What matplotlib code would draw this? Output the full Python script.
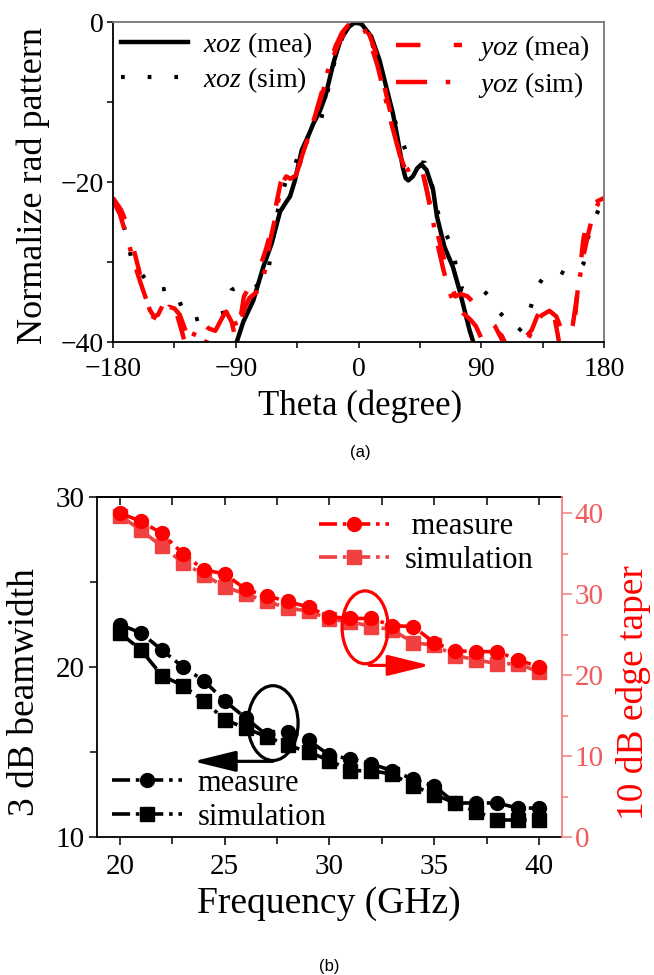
import numpy as np
import matplotlib

matplotlib.use("Agg")
import matplotlib.pyplot as plt
from matplotlib.patches import Ellipse
from matplotlib.lines import Line2D

plt.rcParams["font.family"] = ["Liberation Serif", "DejaVu Serif"]
plt.rcParams["mathtext.fontset"] = "custom"
plt.rcParams["mathtext.rm"] = "Liberation Serif"
plt.rcParams["mathtext.it"] = "Liberation Serif:italic"

# ---- (a) radiation pattern ------------------------------------------------
xoz_mea_theta = [-89.3, -84.5, -77.1, -69.8, -63.7, -57.5, -53, -50.2, -46.6, -41.6, -37, -33.1,
                 -28.5, -24.3, -18.2, -13.2, -7.1, -2.9, 2, 9.3, 15.4, 20.3, 25.2, 28.9, 32.5,
                 34.5, 36.5, 39.9, 43, 46, 49.9, 54.7, 57.5, 63, 69.2, 74, 77.7, 81.4, 84.5]
xoz_mea_db = [-40, -37.5, -34.8, -30.6, -27.7, -23.7, -22.5, -21.8, -19.8, -16, -14.3, -12.7,
              -11.2, -9.3, -5, -2.25, -0.6, -0.1, -0.2, -1.8, -4.75, -8.1, -11.4, -14.75, -18.2,
              -19.5, -19.8, -19.3, -18.3, -17.8, -18.5, -21, -24.3, -28.1, -30.6, -33.5, -36,
              -38.5, -40.2]

xoz_sim_theta = [-180, -175, -171, -166, -160, -155, -149, -143, -137, -132, -127, -120, -113,
                 -105, -98, -93, -88, -82, -77, -72, -66, -63, -58, -53, -48, -43, -36, -28.6,
                 -23, -17.6, -12, -6, 0, 6, 11.7, 17, 22, 27, 32.5, 37, 42, 48.7, 54, 59.4, 64,
                 68.6, 72, 76, 82, 90, 97, 103.4, 110, 116.9, 121, 124.2, 130.3, 136, 142.6, 148,
                 153.6, 160, 165, 168.2, 172, 176, 180]
xoz_sim_db = [-22.5, -24, -26.1, -30, -31.2, -32.5, -33.5, -33.4, -33.2, -34.5, -37, -37.2,
              -36.9, -36.6, -36.3, -33.5, -33, -33.3, -33.4, -32.5, -31, -27.4, -22.5, -19.75,
              -18.5, -16.2, -14, -13, -9, -5, -2, -0.4, 0, -0.8, -3.5, -6.5, -9.5, -12.5, -15.2,
              -17, -17.5, -17.6, -20.5, -24.7, -26.5, -28, -31, -33.4, -33.5, -33.3, -34.5,
              -36.3, -37.5, -38.7, -38, -36.9, -33.3, -31.8, -31, -31.2, -31.7, -31.2, -30.2,
              -27, -25, -23.5, -22.5]

yoz_mea_theta = [-180, -174, -169, -165, -161, -157, -153, -150, -147, -143, -140, -137, -133,
                 -129, -126, -120, -113, -108, -104, -100, -97, -93, -90, -87, -84, -78, -72,
                 -68, -64, -60, -57, -55, -52, -49, -45, -41, -37, -32, -27, -22, -17, -12, -7,
                 -3, 0, 4, 8, 12, 16, 20, 23, 26, 30, 34, 38, 42, 46, 48, 51, 56, 61, 66, 71, 75,
                 80, 85, 90, 94, 100, 106, 112, 118, 122, 127, 131, 135.6, 140.5, 143, 146, 149,
                 153, 157, 161, 165, 169, 174, 180]
yoz_mea_db = [-22, -23.5, -25.6, -28.3, -31, -33.9, -36, -36.8, -36.6, -35.2, -34.3, -35, -36.6,
              -39, -41, -43, -40.5, -38.5, -38.3, -36.8, -36.2, -37.5, -39.7, -37.5, -34.3,
              -32.5, -30.5, -28.5, -26, -22.5, -20, -19.1, -18.9, -19.5, -18.8, -16.5, -14.5,
              -12, -9.2, -6.5, -3.6, -1.8, -0.6, -0.1, 0, -0.5, -1.6, -3.5, -6, -8.8, -11,
              -13.5, -16.5, -18.3, -18.7, -18, -18.2, -19.2, -21.8, -25.2, -28.5, -31.8, -34.3,
              -34.0, -34.3, -35.2, -36.2, -37, -38, -40, -41.5, -40.2, -39.5, -38.5, -36.8,
              -35.6, -35.2, -36.3, -39, -42, -44, -40, -33, -27, -24, -22.5, -22]

yoz_sim_theta = [-180, -175, -170, -165, -160, -155, -151, -147, -143, -139, -135, -131, -127,
                 -123, -118, -114, -110, -105, -100, -96, -92, -88, -84, -80, -75, -71, -68, -65,
                 -62, -59, -56, -53, -50, -46, -42, -37, -32, -27, -22, -17, -12, -7, -3, 0, 4,
                 9, 14, 19, 24, 28, 32, 36, 40, 44, 47, 50, 54, 58, 62, 66, 70, 74, 78, 82, 86,
                 90, 95, 100, 105, 110, 116, 122, 128, 134, 140, 145, 149, 153, 157, 160, 164,
                 168, 172, 176, 180]
yoz_sim_db = [-22.3, -24, -26.8, -29.8, -32.5, -35, -36.8, -37.2, -36.5, -35.6, -35.8, -36.6,
              -38.5, -40, -38, -37.6, -38.3, -38.6, -37, -35.8, -37, -38.5, -36, -34.5, -33.8,
              -33, -30.5, -27.5, -25.2, -22.5, -20.2, -19.3, -19.6, -19.2, -17.2, -14.5, -11.8,
              -8.8, -5.8, -3.1, -1.3, -0.3, 0, -0.1, -0.8, -2.8, -5.5, -9, -12.6, -15.2, -17.3,
              -18.5, -18.2, -18, -18.8, -21, -24.4, -27.8, -30.8, -33.4, -35.2, -36, -36.6,
              -37.2, -38, -39.5, -41, -38.4, -39.2, -41, -41.5, -40.5, -38.3, -36.7, -36.1,
              -36.8, -38.5, -40.5, -38, -34.5, -30, -26.8, -24, -22.6, -22]

# ---- (b) beamwidth / edge taper -------------------------------------------
freq = [20, 21, 22, 23, 24, 25, 26, 27, 28, 29, 30, 31, 32, 33, 34, 35, 36, 37, 38, 39, 40]
bw_measure = [22.5, 22.0, 21.0, 20.0, 19.2, 18.0, 17.0, 16.0, 16.2, 15.7, 14.8, 14.6, 14.3,
              13.9, 13.4, 13.0, 12.0, 12.0, 12.0, 11.7, 11.7]
bw_simulation = [22.0, 21.0, 19.5, 18.9, 18.0, 16.9, 16.4, 15.9, 15.4, 15.0, 14.5, 13.9, 13.9,
                 13.7, 13.0, 12.5, 12.0, 11.5, 11.0, 11.0, 11.0]
taper_measure = [40.0, 39.0, 37.5, 35.0, 33.0, 32.5, 30.6, 29.8, 29.1, 28.4, 27.2, 27.0, 27.0,
                 26.1, 26.0, 24.0, 23.0, 22.9, 22.9, 21.9, 21.0]
taper_simulation = [39.7, 37.9, 35.9, 33.9, 32.4, 30.9, 30.0, 29.1, 28.3, 27.9, 26.9, 26.6,
                    26.0, 25.6, 24.0, 23.7, 22.4, 21.9, 21.4, 21.4, 20.4]

RED = "#ff0000"
RED_SIM = "#f04040"
RIGHT_SPINE = "#f28080"
RIGHT_TICK = "#f05a5a"

fig = plt.figure(figsize=(6.54, 9.75), dpi=100)

# ---------------------------------------------------------------- panel (a)
ax = fig.add_axes([113 / 654, 1 - 342 / 975, 491 / 654, 320 / 975])
ax.plot(xoz_mea_theta, xoz_mea_db, color="k", lw=3.2, solid_capstyle="butt")
ax.plot(xoz_sim_theta, xoz_sim_db, color="k", lw=3.0, dashes=(0.9, 5.5))
ax.plot(yoz_mea_theta, yoz_mea_db, color=RED, lw=3.2, dashes=(5.5, 7.5))
ax.plot(yoz_sim_theta, yoz_sim_db, color=RED, lw=3.2, dashes=(7, 4.2, 1, 4.2))
ax.set_xlim(-180, 180)
ax.set_ylim(-40, 0)
ax.set_xticks([-180, -90, 0, 90, 180])
ax.set_xticks([-135, -45, 45, 135], minor=True)
ax.set_yticks([-40, -20, 0])
ax.set_yticks([-30, -10], minor=True)
ax.tick_params(which="both", direction="out", length=4.5, width=1.1, labelsize=20, pad=2)
ax.tick_params(axis="x", which="both", pad=6)
for s in ("top", "right"):
    ax.spines[s].set_color("#777777")
    ax.spines[s].set_linewidth(1.3)
for s in ("left", "bottom"):
    ax.spines[s].set_linewidth(1.3)
ax.set_xlabel("Theta (degree)", fontsize=25, va="center")
ax.xaxis.set_label_coords(0.503, -0.2)
ax.set_ylabel("Normalize rad pattern", fontsize=26, va="center")
ax.yaxis.set_label_coords(-0.163, 0.49)

h1 = [Line2D([], [], color="k", lw=3.2),
      Line2D([], [], color="k", lw=3.0, dashes=(0.9, 5.5))]
h2 = [Line2D([], [], color=RED, lw=3.2, dashes=(5.5, 7.5)),
      Line2D([], [], color=RED, lw=3.2, dashes=(7, 4.2, 1, 4.2))]
leg1 = ax.legend(h1, [r"$\mathit{xoz}$ (mea)", r"$\mathit{xoz}$ (sim)"], loc="upper left",
                 bbox_to_anchor=(0.016, 0.975), frameon=False, fontsize=20, borderpad=0,
                 borderaxespad=0, handlelength=2.4, handletextpad=0.55, labelspacing=0.2)
ax.add_artist(leg1)
ax.legend(h2, [r"$\mathit{yoz}$ (mea)", r"$\mathit{yoz}$ (sim)"], loc="upper left",
          bbox_to_anchor=(0.576, 0.965), frameon=False, fontsize=20, borderpad=0,
          borderaxespad=0, handlelength=2.4, handletextpad=0.55, labelspacing=0.25)

fig.text(360 / 654, 1 - 452 / 975, "(a)", family="Liberation Sans", fontsize=12,
         ha="center", va="center")

# ---------------------------------------------------------------- panel (b)
axb = fig.add_axes([97 / 654, 1 - 837 / 975, 465 / 654, 340 / 975])
ax2 = axb.twinx()

mea_style = dict(lw=2.6, dashes=(5, 1.6, 1, 1.6), marker="o", ms=10)
sim_style = dict(lw=2.6, dashes=(5, 1.6, 1, 1.6), marker="s", ms=9.5)

axb.plot(freq, bw_measure, color="k", **mea_style)
axb.plot(freq, bw_simulation, color="k", **sim_style)
ax2.plot(freq, taper_simulation, color=RED_SIM, **sim_style)
ax2.plot(freq, taper_measure, color=RED, **mea_style)

axb.set_xlim(18.9, 41.1)
axb.set_ylim(10, 30)
ax2.set_ylim(0, 42)
axb.set_xticks([20, 25, 30, 35, 40])
axb.set_xticks([22.5, 27.5, 32.5, 37.5], minor=True)
axb.set_yticks([10, 20, 30])
axb.set_yticks([15, 25], minor=True)
ax2.set_yticks([0, 10, 20, 30, 40])
ax2.set_yticks([5, 15, 25, 35], minor=True)

axb.tick_params(which="major", direction="out", length=6, width=1.1, labelsize=21, pad=3)
axb.tick_params(which="minor", direction="out", length=5, width=1.1)
axb.tick_params(axis="x", which="major", pad=6)
ax2.tick_params(axis="y", which="major", direction="out", length=7, width=1.1,
                labelsize=21, color=RIGHT_SPINE, labelcolor=RIGHT_TICK, pad=2)
ax2.tick_params(axis="y", which="minor", direction="out", length=4, width=1.1,
                color=RIGHT_SPINE)
for s in ("left", "bottom", "top"):
    axb.spines[s].set_linewidth(1.3)
axb.spines["right"].set_visible(False)
for s in ("left", "bottom", "top"):
    ax2.spines[s].set_visible(False)
ax2.spines["right"].set_color(RIGHT_SPINE)
ax2.spines["right"].set_linewidth(1.3)

top = axb.secondary_xaxis("top")
top.set_xticks([20, 22.5, 25, 27.5, 30, 32.5, 35, 37.5, 40])
top.tick_params(direction="in", length=6, width=1.1, labeltop=False)
top.spines["top"].set_linewidth(1.3)

axb.set_xlabel("Frequency (GHz)", fontsize=27, va="center")
axb.xaxis.set_label_coords(0.499, -0.195)
axb.set_ylabel("3 dB beamwidth", fontsize=27, va="center")
axb.yaxis.set_label_coords(-0.155, 0.426)
ax2.set_ylabel("10 dB edge taper", fontsize=27, color=RED, va="center", rotation=90)
ax2.yaxis.set_label_coords(1.153, 0.426)

# annotation ellipses and arrows
axb.add_patch(Ellipse((27.3, 16.7), 2.4, 4.4, fill=False, ec="k", lw=2.3, zorder=5))
axb.annotate("", xy=(23.5, 14.45), xytext=(27.3, 14.45),
             arrowprops=dict(arrowstyle="-|>,head_length=1.3,head_width=0.32",
                             color="k", lw=2.3, mutation_scale=20, shrinkA=0, shrinkB=0))
ax2.add_patch(Ellipse((31.7, 25.9), 2.2, 9.0, fill=False, ec=RED, lw=2.3, zorder=5))
ax2.annotate("", xy=(34.8, 21.2), xytext=(31.9, 21.2),
             arrowprops=dict(arrowstyle="-|>,head_length=1.3,head_width=0.32",
                             color=RED, lw=2.3, mutation_scale=20, shrinkA=0, shrinkB=0))

leg_kw = dict(frameon=False, fontsize=22, borderpad=0, borderaxespad=0, handlelength=2.3,
              handletextpad=0.5, labelspacing=0.15, loc="upper left")
ax2.legend([Line2D([], [], color=RED, **mea_style), Line2D([], [], color=RED_SIM, **sim_style)],
           [" measure", "simulation"], bbox_to_anchor=(0.477, 0.955), **leg_kw)
axb.legend([Line2D([], [], color="k", **mea_style), Line2D([], [], color="k", **sim_style)],
           ["measure", "simulation"], bbox_to_anchor=(0.032, 0.2), **leg_kw)

fig.text(329 / 654, 1 - 967 / 975, "(b)", family="Liberation Sans", fontsize=12,
         ha="center", va="center")

fig.savefig("out.png", dpi=100)
